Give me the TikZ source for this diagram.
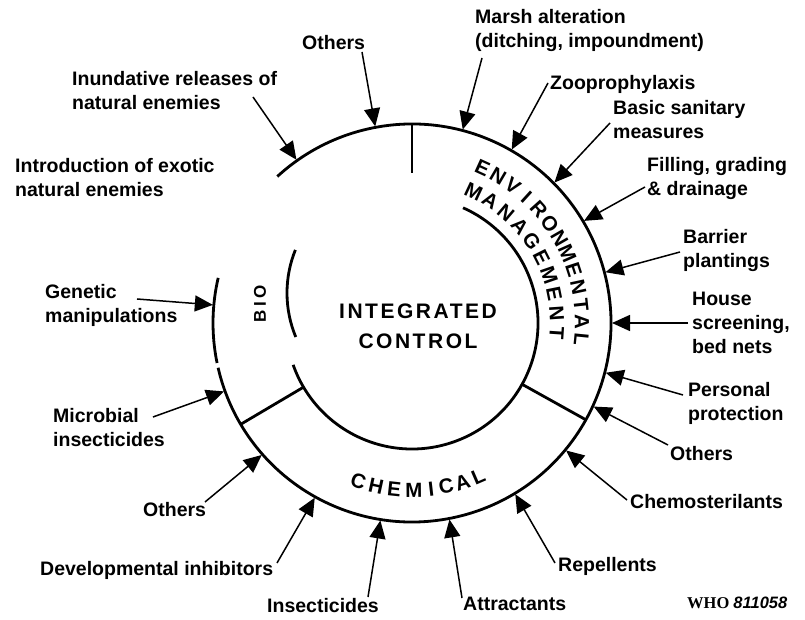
\documentclass[tikz,border=0pt]{standalone}
\usepackage{fontspec}
\setmainfont{Liberation Sans}
\newfontfamily\whofont{Liberation Serif}
\usepackage{tikz}
\usetikzlibrary{arrows.meta,calc}
\tikzset{
  lab/.style={anchor=west,align=left,inner sep=0pt,font=\fontsize{19.5}{24}\selectfont\bfseries},
  arr/.style={line width=1.5pt,-{Triangle[length=18pt,width=16pt]}},
  ring/.style={line width=2.8pt},
  curvy/.style={inner sep=0pt,font=\fontsize{20.5}{20.5}\selectfont\bfseries},
}

\begin{document}
\begin{tikzpicture}[x=1pt,y=1pt]
\path[use as bounding box,fill=white] (-412,-297) rectangle (393,323);
\coordinate (c) at (0,0);
% rings and dividers
\draw[ring] (193:199) arc[start angle=193,end angle=492.6,radius=199];
\draw[ring] (166.9:199) arc[start angle=166.9,end angle=191.6,radius=199];
\draw[ring] (90:199) -- (90:150);
\draw[ring] (199.4:126) arc[start angle=199.4,end angle=426.1,radius=126];
\draw[ring] ($(-10,30)+(158:115)$) arc[start angle=158,end angle=202.5,radius=115];
\draw[ring] (210.6:126) -- (210.6:199);
\draw[ring] (330.9:126) -- (330.9:199);

\node[align=center,font=\fontsize{21}{30}\selectfont\bfseries\addfontfeature{LetterSpace=12}] (ic) at (6,-3) {INTEGRATED\\CONTROL};
\node[rotate=90,font=\fontsize{17}{17}\selectfont\bfseries\addfontfeature{LetterSpace=22}] (bio) at (-152,19) {BIO};
\foreach \ch [count=\i from 0] in {E,N,V,I,R,O,N,M,E,N,T,A,L}
  \node[curvy,rotate={65.5-5.93*\i-90}] (env\i) at ({65.5-5.93*\i}:170) {\ch};
\foreach \ch [count=\i from 0] in {M,A,N,A,G,E,M,E,N,T}
  \node[curvy,rotate={64.9-7.64*\i-90}] (man\i) at ({64.9-7.64*\i}:145) {\ch};
\foreach \ch/\a [count=\i] in {C/251.3,H/257.6,E/263.9,M/270.6,I/276.6,C/281.8,A/287.6,L/293.4}
  \node[curvy,rotate={\a+90}] (chem\i) at (\a:167) {\ch};

% labels
\node[lab] (othT) at (-110,280) {Others};
\node[lab] (inund) at (-340,232) {Inundative releases of\\natural enemies};
\node[lab] (intro) at (-397,145) {Introduction of exotic\\natural enemies};
\node[lab] (marsh) at (63,292.5) {Marsh alteration\\(ditching, impoundment)};
\node[lab] (zoo) at (138,239) {Zooprophylaxis};
\node[lab] (basic) at (201,203) {Basic sanitary\\measures};
\node[lab] (fill) at (235,144.5) {Filling, grading\\\& drainage};
\node[lab] (barrier) at (271,72.5) {Barrier\\plantings};
\node[lab] (house) at (280,0.5) {House\\screening,\\bed nets};
\node[lab] (pers) at (276,-80.5) {Personal\\protection};
\node[lab] (othR) at (258,-131) {Others};
\node[lab] (chemo) at (218,-179) {Chemosterilants};
\node[lab] (repel) at (146,-243) {Repellents};
\node[lab] (attr) at (51,-281) {Attractants};
\node[lab] (insect) at (-145,-283) {Insecticides};
\node[lab] (devel) at (-372,-247) {Developmental inhibitors};
\node[lab] (othL) at (-269,-187) {Others};
\node[lab] (micro) at (-359,-104.5) {Microbial\\insecticides};
\node[lab] (genet) at (-367,17.5) {Genetic\\manipulations};
\node[anchor=west,inner sep=0pt] (who) at (275,-280) {\fontsize{16.5}{16.5}\selectfont\whofont\bfseries WHO \normalfont\fontsize{16.5}{16.5}\selectfont\bfseries\itshape 811058};

% arrows onto the ring
\foreach \n/\x/\y/\a in {othT/-50/271/100.6, inund/-159/226/125.3, marsh/70/265/75.3,
    zoo/136/240/60.1, basic/198/200/44.6, fill/233/136/30.7, barrier/268/71/14.7,
    house/276/0/0, pers/271/-72/-14.4, othR/256/-122/-24.7, chemo/215/-177/-39.6,
    repel/143/-240/-58.9, attr/50/-275/-79.2, insect/-44/-274/260.9,
    devel/-135/-240/240.9, othL/-207/-179/221.3, micro/-259/-94/200, genet/-275/24/174.8}
{
  \coordinate (s\n) at (\x,\y);
  \coordinate (t\n) at (\a:200);
  \draw[arr] (s\n) -- (t\n);
}
\end{tikzpicture}
\end{document}
